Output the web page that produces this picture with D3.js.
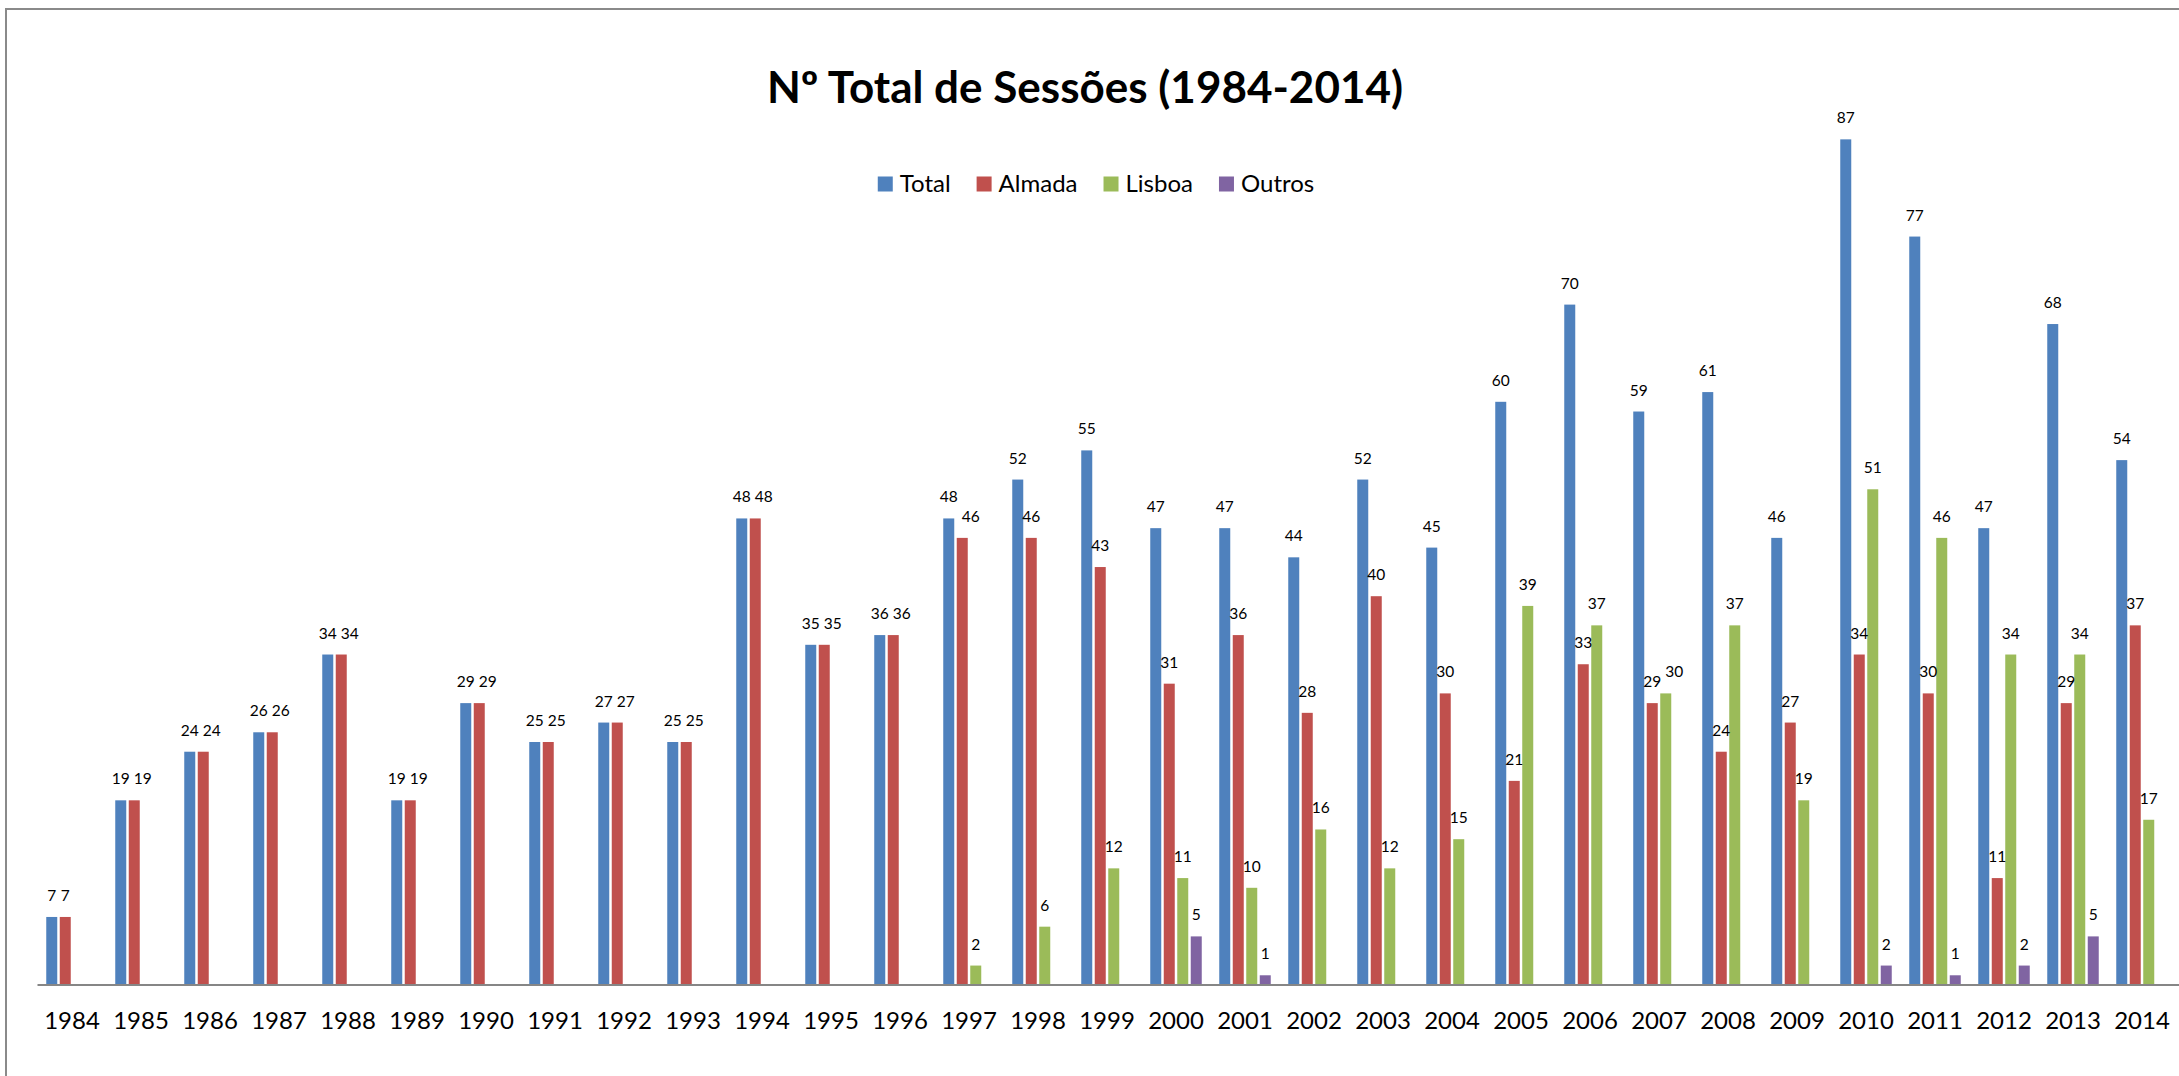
<!DOCTYPE html>
<html>
<head>
<meta charset="utf-8">
<script src="https://cdn.jsdelivr.net/npm/d3@7"></script>
<style>
  html, body { margin: 0; padding: 0; background: #fff; }
  svg { display: block; }
  text { font-family: Lato, "Open Sans", sans-serif; fill: #000; }
</style>
</head>
<body>
<svg id="chart" width="2179" height="1076"></svg>
<script>
const years = ["1984","1985","1986","1987","1988","1989","1990","1991","1992","1993",
  "1994","1995","1996","1997","1998","1999","2000","2001","2002","2003",
  "2004","2005","2006","2007","2008","2009","2010","2011","2012","2013","2014"];
const seriesNames = ["Total", "Almada", "Lisboa", "Outros"];
const totalValues  = [7,19,24,26,34,19,29,25,27,25,48,35,36,48,52,55,47,47,44,52,45,60,70,59,61,46,87,77,47,68,54];
const almadaValues = [7,19,24,26,34,19,29,25,27,25,48,35,36,46,46,43,31,36,28,40,30,21,33,29,24,27,34,30,11,29,37];
const lisboaValues = [null,null,null,null,null,null,null,null,null,null,null,null,null,2,6,12,11,10,16,12,15,39,37,30,37,19,51,46,34,34,17];
const outrosValues = [null,null,null,null,null,null,null,null,null,null,null,null,null,null,null,null,5,1,null,null,null,null,null,null,null,null,2,1,2,5,null];
const colors = ["#4F81BD", "#C0504D", "#9BBB59", "#8064A2"];
const titleText = "Nº Total de Sessões (1984-2014)";

const seriesValues = [totalValues, almadaValues, lisboaValues, outrosValues];

const svg = d3.select("#chart");

// chart frame (cropped on right and bottom)
svg.append("path")
  .attr("d", "M6,1076 V9 H2179")
  .attr("fill", "none")
  .attr("stroke", "#8a8a8a")
  .attr("stroke-width", 2);

const baseline = 985;
const x = d3.scaleBand().domain(years).range([37.5, 37.5 + 69 * years.length]).padding(0);
const x1 = d3.scaleBand().domain(seriesNames).range([8.75, 60.25]).paddingInner(0.185).paddingOuter(0);
const y = d3.scaleLinear().domain([0, 100]).range([baseline, baseline - 972]);

const data = [];
years.forEach((yr, i) => {
  seriesNames.forEach((s, k) => {
    const v = seriesValues[k][i];
    if (v !== null && v !== undefined) data.push({year: yr, series: s, k: k, value: v});
  });
});

const g = svg.append("g");

g.selectAll("rect.bar").data(data).join("rect")
  .attr("class", "bar")
  .attr("x", d => x(d.year) + x1(d.series))
  .attr("y", d => y(d.value))
  .attr("width", x1.bandwidth())
  .attr("height", d => y(0) - y(d.value))
  .attr("fill", d => colors[d.k]);

const labels = g.selectAll("text.lbl").data(data).join("text")
  .attr("class", "lbl")
  .attr("x", d => x(d.year) + x1(d.series) + x1.bandwidth() / 2)
  .attr("y", d => y(d.value) - 16)
  .attr("text-anchor", "middle")
  .attr("font-size", 15.5)
  .text(d => d.value);

// nudge labels that would collide with a neighbour's label in the same year
years.forEach(yr => {
  const placed = [];
  labels.filter(d => d.year === yr).each(function(d) {
    const el = d3.select(this);
    const w = this.getComputedTextLength();
    let cx = +el.attr("x");
    const ly = +el.attr("y");
    placed.forEach(p => {
      if (Math.abs(p.y - ly) < 21 && cx - w / 2 < p.right + 4) {
        cx = p.right + 4 + w / 2;
      }
    });
    el.attr("x", cx);
    placed.push({y: ly, right: cx + w / 2});
  });
});

// x axis
const xAxis = d3.axisBottom(x).tickSize(0).tickPadding(0);
const axG = svg.append("g").attr("transform", `translate(0,${baseline})`).call(xAxis);
axG.select(".domain").attr("stroke", "#868686").attr("stroke-width", 2)
  .attr("d", `M37.5,0H2179`);
axG.selectAll(".tick text")
  .attr("font-size", 24)
  .attr("font-family", "Lato, 'Open Sans', sans-serif")
  .attr("fill", "#000")
  .attr("dy", null)
  .attr("y", 44);

// title
svg.append("text")
  .attr("x", 1085)
  .attr("y", 103)
  .attr("text-anchor", "middle")
  .attr("font-size", 44)
  .attr("font-weight", "bold")
  .text(titleText);

// legend
const legend = svg.append("g");
let lx = 0;
seriesNames.forEach((s, k) => {
  const item = legend.append("g").attr("transform", `translate(${lx},0)`);
  item.append("rect").attr("x", 0).attr("y", -15).attr("width", 15).attr("height", 15).attr("fill", colors[k]);
  const t = item.append("text").attr("x", 22).attr("y", 0).attr("font-size", 24).text(s);
  lx += 22 + t.node().getComputedTextLength() + 26;
});
const legendWidth = lx - 26;
legend.attr("transform", `translate(${1096 - legendWidth / 2},${191.5})`);
</script>
</body>
</html>
